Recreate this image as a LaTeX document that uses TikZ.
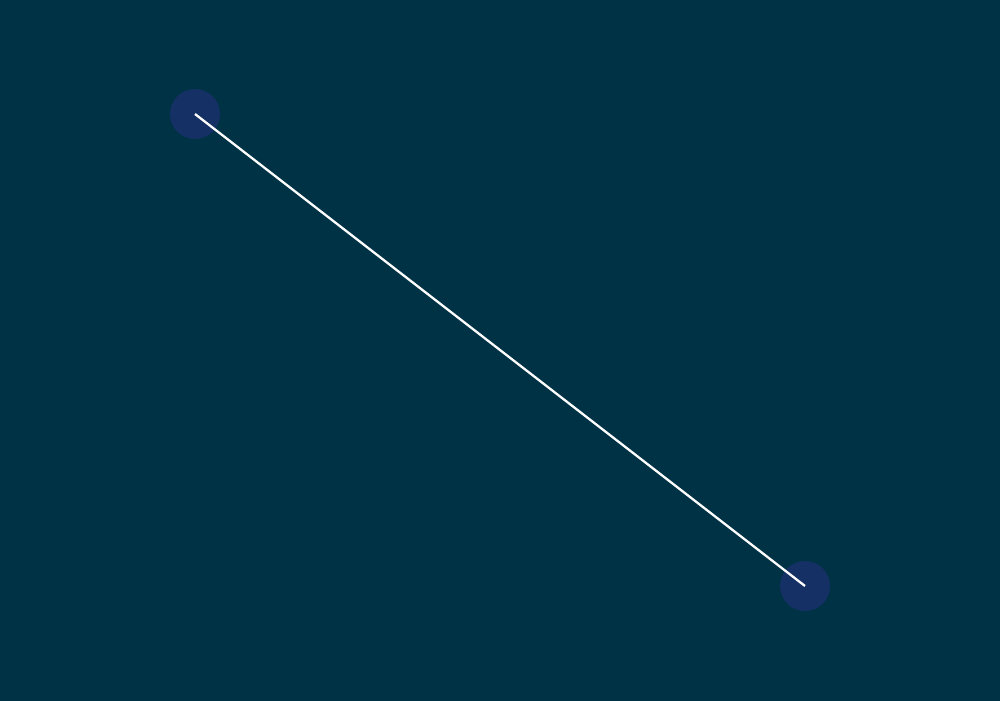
\documentclass[tikz,border=0pt]{standalone}
\usepackage{tikz}

\definecolor{bgblue}{RGB}{0,50,70}
\definecolor{dotblue}{RGB}{20,48,100}

\begin{document}
\begin{tikzpicture}
        [dot/.style = {circle,
        minimum size = 0.5cm,
        inner sep = 0pt,
        fill=dotblue}]

        % Background
        \useasboundingbox (0,0) rectangle (10,7);
        \fill[bgblue] (-0.1,-0.1) rectangle (10.1,7.1);

        % Points
        \node[dot] (A) at (1.95,5.86) {};
        \node[dot] (B) at (8.05,1.14) {};

        % Segment
        \draw[white, line width=0.65pt] (A.center) -- (B.center);
    \end{tikzpicture}
\end{document}
